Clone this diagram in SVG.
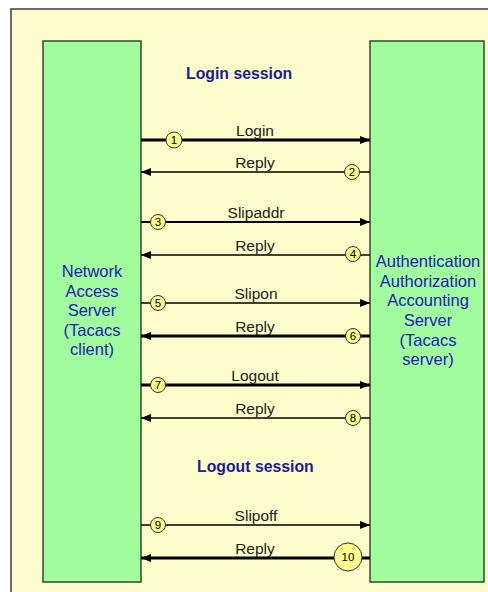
<svg xmlns="http://www.w3.org/2000/svg" width="488" height="592" viewBox="0 0 488 592">
  <defs>
    <style>
      .frame { fill: #fffccb; stroke: #3c3c3c; stroke-width: 1.5; }
      .box { fill: #a0fc9c; stroke: #2e4a2e; stroke-width: 1.5; }
      .node-text { font-family: "Liberation Sans", Arial, sans-serif; font-size: 16.5px; fill: #2020b8; text-anchor: middle; }
      .title { font-family: "Liberation Sans", Arial, sans-serif; font-size: 15.8px; font-weight: bold; fill: #1a1a9a; }
      .msg { font-family: "Liberation Sans", Arial, sans-serif; font-size: 15.5px; fill: #222; text-anchor: middle; }
      .wire { stroke: #000; fill: none; }
      .thin { stroke-width: 1.3; }
      .mid { stroke-width: 2.2; }
      .thick { stroke-width: 3; }
      .badge { fill: #fffa8c; stroke: #333; stroke-width: 1; }
      .num { font-family: "Liberation Sans", Arial, sans-serif; font-size: 11.5px; fill: #000; text-anchor: middle; }
    </style>
    <marker id="head" viewBox="0 0 10 8" refX="10" refY="4" markerWidth="10" markerHeight="8" markerUnits="userSpaceOnUse" orient="auto">
      <path d="M0,0 L10,4 L0,8 Z" fill="#000"/>
    </marker>
  </defs>

  <!-- background frame -->
  <rect class="frame" x="11" y="9" width="490" height="600"/>

  <!-- section titles -->
  <text class="title" x="186" y="79">Login session</text>
  <text class="title" x="197" y="472">Logout session</text>

  <!-- client node -->
  <g id="nas">
    <rect class="box" x="43" y="41" width="98" height="541"/>
    <text class="node-text" x="92" y="277">Network</text>
    <text class="node-text" x="92" y="297">Access</text>
    <text class="node-text" x="92" y="316">Server</text>
    <text class="node-text" x="92" y="336">(Tacacs</text>
    <text class="node-text" x="92" y="355">client)</text>
  </g>

  <!-- server node -->
  <g id="aaa">
    <rect class="box" x="370" y="41" width="114" height="541"/>
    <text class="node-text" x="428" y="267">Authentication</text>
    <text class="node-text" x="428" y="287">Authorization</text>
    <text class="node-text" x="428" y="306">Accounting</text>
    <text class="node-text" x="428" y="326">Server</text>
    <text class="node-text" x="428" y="346">(Tacacs</text>
    <text class="node-text" x="428" y="365">server)</text>
  </g>

  <!-- message connectors -->
  <g id="connectors">
    <line class="wire thick" x1="141" y1="140" x2="370" y2="140" marker-end="url(#head)"/>
    <line class="wire thin" x1="370" y1="172" x2="141" y2="172" marker-end="url(#head)"/>
    <line class="wire mid" x1="141" y1="222" x2="370" y2="222" marker-end="url(#head)"/>
    <line class="wire thin" x1="370" y1="255" x2="141" y2="255" marker-end="url(#head)"/>
    <line class="wire thin" x1="141" y1="303" x2="370" y2="303" marker-end="url(#head)"/>
    <line class="wire thick" x1="370" y1="336" x2="141" y2="336" marker-end="url(#head)"/>
    <line class="wire thick" x1="141" y1="385" x2="370" y2="385" marker-end="url(#head)"/>
    <line class="wire thin" x1="370" y1="418" x2="141" y2="418" marker-end="url(#head)"/>
    <line class="wire thin" x1="141" y1="525" x2="370" y2="525" marker-end="url(#head)"/>
    <line class="wire thick" x1="370" y1="558" x2="141" y2="558" marker-end="url(#head)"/>

    <text class="msg" x="255" y="136">Login</text>
    <text class="msg" x="255" y="168">Reply</text>
    <text class="msg" x="256" y="218">Slipaddr</text>
    <text class="msg" x="255" y="251">Reply</text>
    <text class="msg" x="256" y="299">Slipon</text>
    <text class="msg" x="255" y="332">Reply</text>
    <text class="msg" x="255" y="381">Logout</text>
    <text class="msg" x="255" y="414">Reply</text>
    <text class="msg" x="256" y="521">Slipoff</text>
    <text class="msg" x="255" y="554">Reply</text>

    <!-- step badges -->
    <circle class="badge" cx="174" cy="140" r="8"/><text class="num" x="174" y="144">1</text>
    <circle class="badge" cx="352" cy="172" r="7.5"/><text class="num" x="352" y="176">2</text>
    <circle class="badge" cx="158" cy="222" r="7.5"/><text class="num" x="158" y="226">3</text>
    <circle class="badge" cx="353" cy="254" r="7.5"/><text class="num" x="353" y="258">4</text>
    <circle class="badge" cx="158" cy="303" r="7.5"/><text class="num" x="158" y="307">5</text>
    <circle class="badge" cx="353" cy="336" r="7.5"/><text class="num" x="353" y="340">6</text>
    <circle class="badge" cx="158" cy="385" r="7.5"/><text class="num" x="158" y="389">7</text>
    <circle class="badge" cx="353" cy="418" r="7.5"/><text class="num" x="353" y="422">8</text>
    <circle class="badge" cx="158" cy="525" r="7.5"/><text class="num" x="158" y="529">9</text>
    <circle class="badge" cx="348" cy="557" r="14"/><text class="num" x="348" y="561">10</text>
  </g>
</svg>
